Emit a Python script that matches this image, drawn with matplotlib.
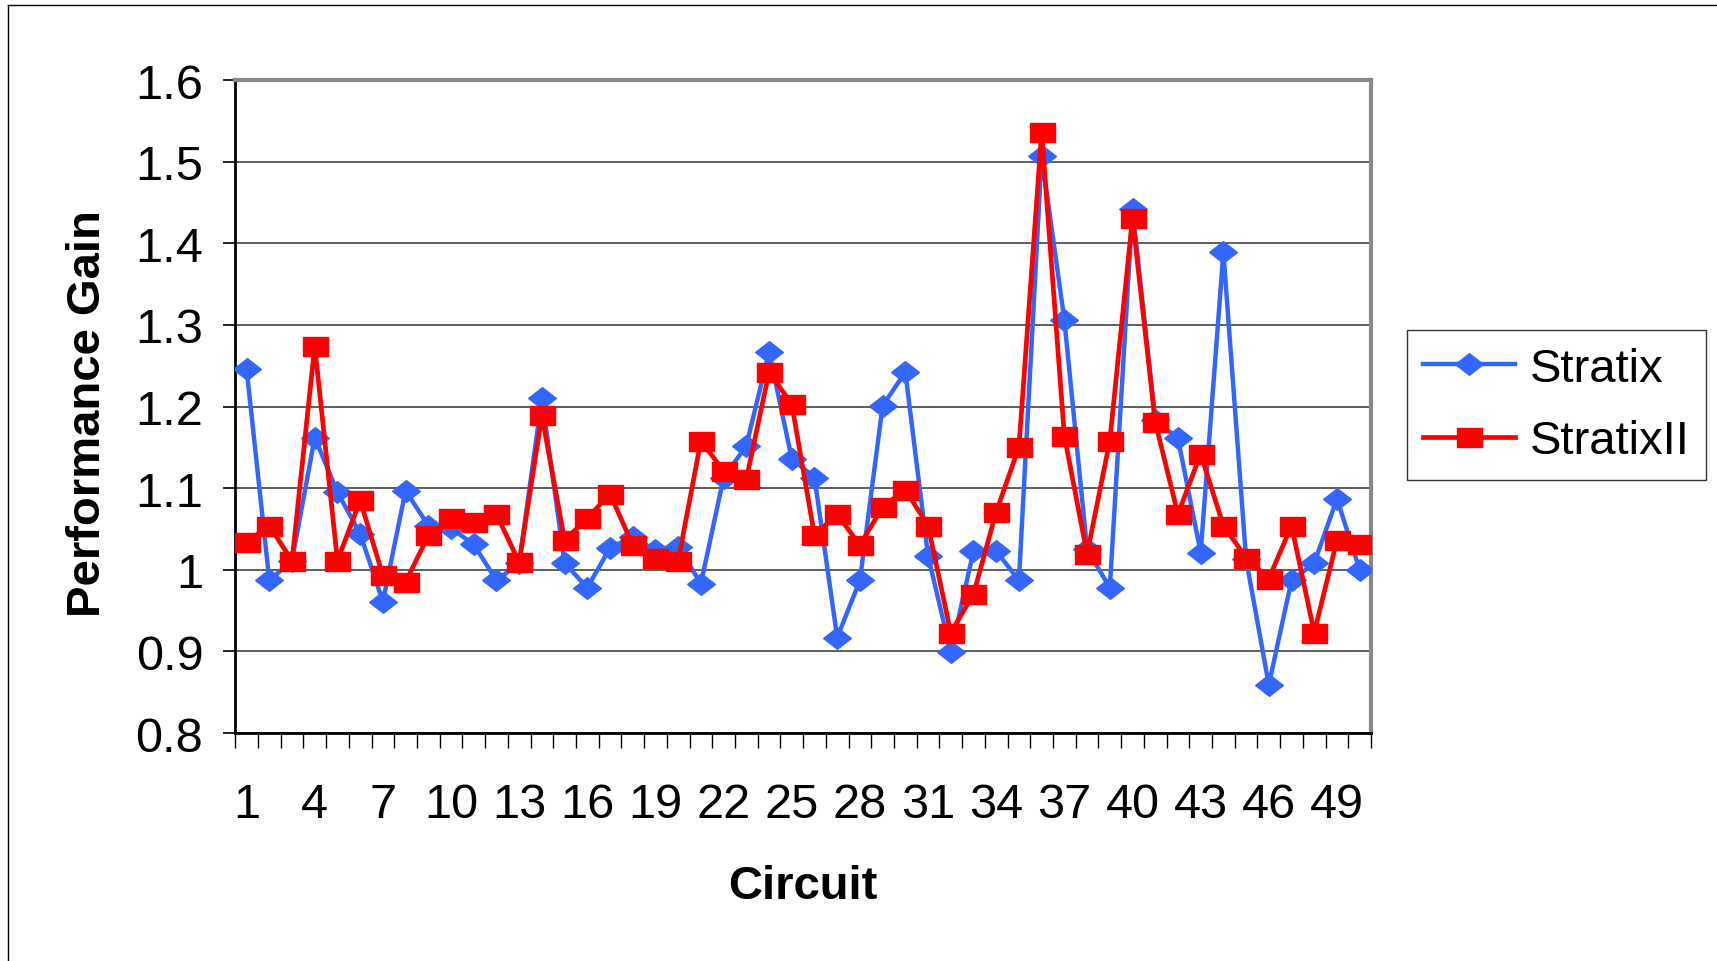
import numpy as np
import matplotlib
matplotlib.use("Agg")
import matplotlib.pyplot as plt
from matplotlib.lines import Line2D

plt.rcParams['font.family'] = ['Liberation Sans', 'DejaVu Sans']

circuits = list(range(1, 51))
stratix = [1.246, 0.987, 1.011, 1.162, 1.095, 1.044, 0.961, 1.097, 1.054, 1.051,
           1.031, 0.987, 1.008, 1.210, 1.008, 0.978, 1.027, 1.040, 1.024, 1.028,
           0.983, 1.113, 1.152, 1.267, 1.136, 1.113, 0.917, 0.987, 1.201, 1.242,
           1.017, 0.899, 1.023, 1.023, 0.987, 1.507, 1.306, 1.025, 0.978, 1.442,
           1.183, 1.161, 1.021, 1.389, 1.013, 0.859, 0.987, 1.008, 1.087, 1.000]
stratix2 = [1.034, 1.054, 1.011, 1.274, 1.011, 1.085, 0.993, 0.985, 1.042, 1.063,
            1.059, 1.068, 1.009, 1.189, 1.036, 1.063, 1.093, 1.030, 1.015, 1.011,
            1.158, 1.121, 1.111, 1.242, 1.203, 1.042, 1.068, 1.030, 1.077, 1.098,
            1.054, 0.923, 0.970, 1.071, 1.150, 1.536, 1.164, 1.019, 1.158, 1.431,
            1.181, 1.068, 1.142, 1.054, 1.015, 0.989, 1.054, 0.923, 1.036, 1.032]

blue = '#3366FF'
red = '#FF0000'
diamond = [(-1, 0), (0, 0.78), (1, 0), (0, -0.78), (-1, 0)]
rect = [(-1, -0.76), (1, -0.76), (1, 0.76), (-1, 0.76), (-1, -0.76)]

fig = plt.figure(figsize=(17.17, 9.62), dpi=100)
ax = fig.add_axes([0.137, 0.237, 0.6615, 0.6788])

ax.plot(circuits, stratix, color=blue, lw=3.2, marker=diamond, ms=20,
        mec=blue, mfc=blue, label='Stratix', zorder=3)
ax.plot(circuits, stratix2, color=red, lw=3.4, marker=rect, ms=18,
        mec=red, mfc=red, label='StratixII', zorder=4)

ax.set_xlim(0.5, 50.5)
ax.set_ylim(0.8, 1.6)
ax.set_yticks(np.arange(0.8, 1.61, 0.1))
ax.set_yticklabels(['0.8', '0.9', '1', '1.1', '1.2', '1.3', '1.4', '1.5', '1.6'])
ax.yaxis.grid(True, color='#333333', lw=1.1)
ax.set_axisbelow(True)

ax.set_xticks(np.arange(0.5, 51, 1))
ax.set_xticklabels([])
ax.set_xticks(circuits[::3], minor=True)
ax.set_xticklabels([str(c) for c in circuits[::3]], minor=True)
ax.tick_params(axis='x', which='major', direction='out', length=11, width=1, color='black')
ax.tick_params(axis='x', which='minor', length=0, pad=35, labelsize=35)
ax.tick_params(axis='y', direction='out', length=9, width=1.2, pad=14, labelsize=35)

for s in ['left', 'bottom']:
    ax.spines[s].set_color('black')
    ax.spines[s].set_linewidth(2)
for s in ['top', 'right']:
    ax.spines[s].set_color('#888888')
    ax.spines[s].set_linewidth(3)

ax.set_ylabel('Performance Gain', fontsize=34, fontweight='bold')
ax.yaxis.set_label_coords(-0.110, 0.49)
ax.set_xlabel('Circuit', fontsize=34, fontweight='bold')
ax.xaxis.set_label_coords(0.5, -0.200)

leg = fig.legend(loc='center', bbox_to_anchor=(0.9065, 0.578), fontsize=34,
                 frameon=True, fancybox=False, edgecolor='black',
                 handlelength=1.95, handletextpad=0.3, borderpad=0.35,
                 labelspacing=0.6, borderaxespad=0)
leg.get_frame().set_linewidth(1)

# outer chart border (left and top edges visible)
fig.add_artist(Line2D([0.0045, 0.0045], [0, 0.994], color='black', lw=1, transform=fig.transFigure))
fig.add_artist(Line2D([0.0045, 1], [0.994, 0.994], color='black', lw=1, transform=fig.transFigure))

fig.savefig('out.png', dpi=100)
